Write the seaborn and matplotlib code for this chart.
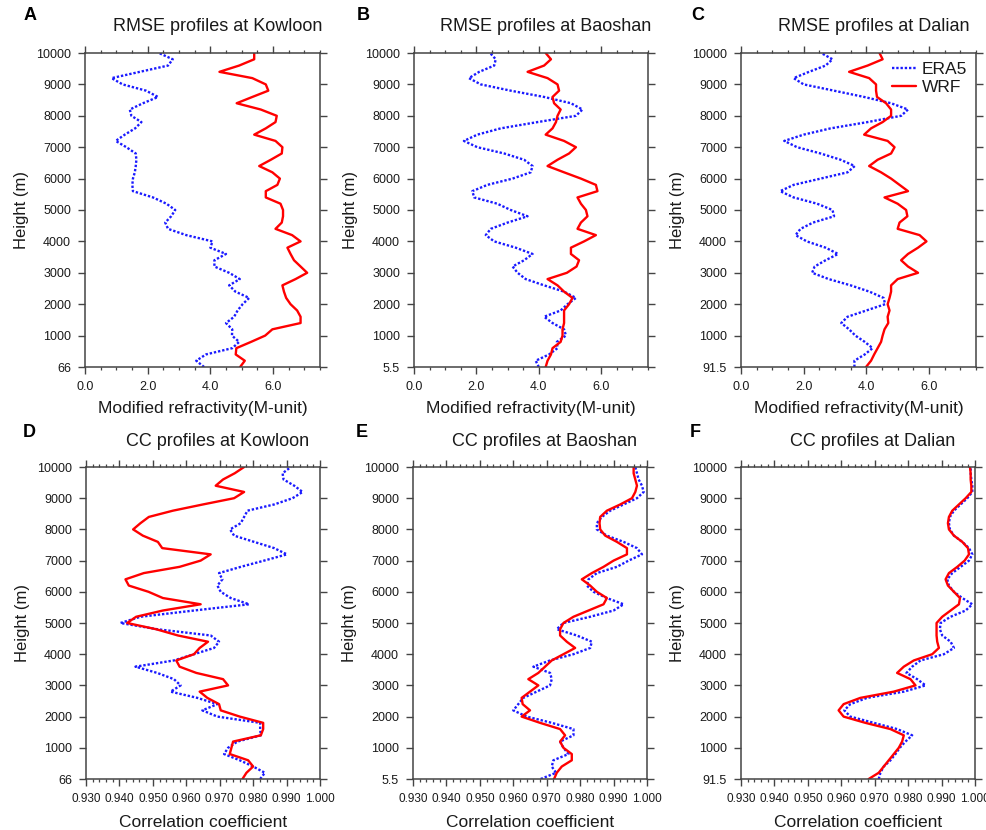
import numpy as np
import pandas as pd
import matplotlib
matplotlib.use('Agg')
import matplotlib.pyplot as plt
import seaborn as sns
from matplotlib.ticker import MultipleLocator, FormatStrFormatter

# sampling heights of the profiles (m), from top to bottom
heights = np.arange(10000, -1, -200)

stations = ['Kowloon', 'Baoshan', 'Dalian']
station_alt = ['66', '5.5', '91.5']
panel_letters = ['A', 'B', 'C', 'D', 'E', 'F']

# ---- RMSE (M-unit) ----
rmse_era5_kowloon = [2.36, 2.8, 2.65, 1.75, 0.85, 1.2, 1.95, 2.33, 1.85, 1.43,
                     1.48, 1.8, 1.6, 1.27, 0.98, 1.32, 1.62, 1.64, 1.62, 1.59,
                     1.53, 1.51, 1.53, 2.17, 2.6, 2.88, 2.75, 2.56, 2.65, 3.23,
                     4.07, 4.0, 4.5, 4.13, 4.13, 4.6, 4.94, 4.6, 4.8, 5.24,
                     5.03, 4.87, 4.76, 4.5, 4.7, 4.69, 4.92, 4.7, 3.86, 3.55, 3.8]
rmse_wrf_kowloon = [5.4, 5.4, 4.92, 4.29, 5.34, 5.77, 5.85, 5.34, 4.84, 5.61,
                    6.12, 6.08, 5.77, 5.4, 6.08, 6.3, 6.28, 5.93, 5.56, 5.98,
                    6.22, 6.14, 5.77, 5.77, 6.24, 6.32, 6.32, 6.28, 6.08, 6.61,
                    6.88, 6.46, 6.56, 6.67, 6.88, 7.09, 6.72, 6.3, 6.35, 6.42,
                    6.56, 6.77, 6.88, 6.88, 5.98, 5.75, 5.3, 4.83, 4.81, 5.1, 4.95]

rmse_era5_baoshan = [2.44, 2.62, 2.57, 2.09, 1.76, 2.14, 3.1, 4.17, 5.03, 5.4,
                     5.19, 3.96, 2.78, 2.03, 1.6, 2.03, 2.89, 3.53, 3.8, 3.74,
                     3.16, 2.35, 1.87, 1.93, 2.67, 3.1, 3.64, 3.0, 2.46, 2.3,
                     2.57, 3.26, 3.8, 3.53, 3.16, 3.32, 3.58, 4.17, 4.81, 5.19,
                     4.92, 4.7, 4.17, 4.44, 4.81, 4.87, 4.58, 4.6, 4.33, 3.9, 4.0]
rmse_wrf_baoshan = [4.22, 4.39, 4.17, 3.64, 4.28, 4.6, 4.65, 4.44, 4.49, 4.7,
                    4.6, 4.55, 4.44, 4.22, 4.81, 5.19, 4.97, 4.6, 4.28, 4.81,
                    5.35, 5.83, 5.88, 5.24, 5.35, 5.51, 5.56, 5.35, 5.24, 5.83,
                    5.45, 5.03, 5.03, 5.29, 5.21, 4.9, 4.28, 4.6, 4.81, 5.08,
                    4.97, 4.81, 4.81, 4.81, 4.76, 4.76, 4.7, 4.44, 4.39, 4.28, 4.22]

rmse_era5_dalian = [2.56, 2.92, 2.7, 2.17, 1.68, 2.0, 2.97, 3.93, 4.79, 5.33,
                    5.11, 4.04, 2.86, 2.0, 1.38, 1.79, 2.54, 3.18, 3.63, 3.4,
                    2.54, 1.68, 1.25, 1.68, 2.43, 2.92, 2.97, 2.3, 1.9, 1.74,
                    2.1, 2.7, 3.1, 2.7, 2.35, 2.27, 2.8, 3.5, 4.1, 4.55,
                    4.6, 4.0, 3.4, 3.2, 3.45, 3.65, 3.95, 4.2, 3.95, 3.62, 3.62]
rmse_wrf_dalian = [4.42, 4.52, 4.04, 3.45, 4.09, 4.31, 4.31, 4.34, 4.63, 4.79,
                   4.79, 4.52, 4.15, 3.93, 4.68, 4.9, 4.79, 4.36, 4.09, 4.47,
                   4.79, 5.06, 5.33, 4.58, 5.0, 5.27, 5.31, 5.06, 5.0, 5.7,
                   5.92, 5.65, 5.33, 5.11, 5.33, 5.65, 5.0, 4.79, 4.79, 4.74,
                   4.68, 4.74, 4.68, 4.7, 4.58, 4.52, 4.47, 4.36, 4.25, 4.15, 3.99]

# ---- correlation coefficient ----
cc_era5_kowloon = [0.9913, 0.9888, 0.9891, 0.9923, 0.9948, 0.9918, 0.9863, 0.9783, 0.9773, 0.9763,
                   0.9731, 0.9743, 0.9803, 0.9863, 0.9901, 0.9833, 0.9763, 0.9698, 0.9708, 0.9693,
                   0.9703, 0.9733, 0.9788, 0.9623, 0.9463, 0.9403, 0.9513, 0.9673, 0.9698, 0.9683,
                   0.9623, 0.9563, 0.9448, 0.9513, 0.9563, 0.9583, 0.9553, 0.9633, 0.9693, 0.9648,
                   0.9693, 0.9821, 0.9821, 0.9823, 0.9753, 0.9725, 0.9713, 0.9760, 0.9800, 0.9835, 0.9821]
cc_wrf_kowloon = [0.9773, 0.9745, 0.9710, 0.9688, 0.9773, 0.9743, 0.9650, 0.9560, 0.9488, 0.9463,
                  0.9441, 0.9470, 0.9515, 0.9528, 0.9673, 0.9643, 0.9580, 0.9473, 0.9418, 0.9428,
                  0.9487, 0.9530, 0.9643, 0.9530, 0.9450, 0.9423, 0.9510, 0.9575, 0.9665, 0.9640,
                  0.9623, 0.9570, 0.9580, 0.9630, 0.9710, 0.9725, 0.9640, 0.9663, 0.9698, 0.9703,
                  0.9760, 0.9830, 0.9830, 0.9823, 0.9740, 0.9735, 0.9730, 0.9785, 0.9800, 0.9780, 0.9768]

cc_era5_baoshan = [0.9965, 0.997, 0.9975, 0.9985, 0.999, 0.997, 0.993, 0.989, 0.9865, 0.985,
                   0.985, 0.988, 0.993, 0.997, 0.9985, 0.9945, 0.991, 0.985, 0.9825, 0.982,
                   0.984, 0.988, 0.993, 0.990, 0.983, 0.975, 0.973, 0.979, 0.9835, 0.983,
                   0.978, 0.971, 0.966, 0.971, 0.9715, 0.971, 0.967, 0.963, 0.9615, 0.960,
                   0.964, 0.9715, 0.978, 0.978, 0.974, 0.975, 0.9765, 0.972, 0.9715, 0.9728, 0.9682]
cc_wrf_baoshan = [0.996, 0.996, 0.9965, 0.997, 0.9965, 0.9955, 0.992, 0.988, 0.986, 0.9858,
                  0.986, 0.9875, 0.991, 0.994, 0.994, 0.990, 0.987, 0.9835, 0.9805, 0.983,
                  0.985, 0.988, 0.987, 0.9825, 0.978, 0.975, 0.974, 0.974, 0.976, 0.9785,
                  0.975, 0.9715, 0.9695, 0.9675, 0.9645, 0.9675, 0.965, 0.9625, 0.9628, 0.965,
                  0.9625, 0.968, 0.974, 0.9755, 0.974, 0.975, 0.9775, 0.9775, 0.9745, 0.973, 0.9722]

cc_era5_dalian = [0.9987, 0.9987, 0.9989, 0.9992, 0.9992, 0.9977, 0.9957, 0.9937, 0.9925, 0.9922,
                  0.9925, 0.9937, 0.9962, 0.9982, 0.9992, 0.9982, 0.9957, 0.9932, 0.9917, 0.9922,
                  0.9937, 0.9962, 0.9992, 0.9972, 0.9927, 0.9897, 0.9895, 0.9902, 0.9927, 0.9937,
                  0.9907, 0.9837, 0.9812, 0.9795, 0.9827, 0.9852, 0.9787, 0.9677, 0.9627, 0.9609,
                  0.9627, 0.9697, 0.9767, 0.9812, 0.9792, 0.9775, 0.9762, 0.9747, 0.9727, 0.9717, 0.9712]
cc_wrf_dalian = [0.9985, 0.9987, 0.9987, 0.9989, 0.9989, 0.9972, 0.9952, 0.9932, 0.9922, 0.9919,
                 0.9922, 0.9937, 0.9962, 0.9979, 0.9982, 0.9969, 0.9947, 0.9922, 0.9912, 0.9919,
                 0.9937, 0.9955, 0.9952, 0.9927, 0.9902, 0.9885, 0.9885, 0.9885, 0.9887, 0.9892,
                 0.9872, 0.9817, 0.9787, 0.9767, 0.9807, 0.9822, 0.9757, 0.9657, 0.9607, 0.9592,
                 0.9607, 0.9672, 0.9747, 0.9787, 0.9782, 0.9772, 0.9757, 0.9742, 0.9727, 0.9712, 0.9682]

rmse_era5 = [rmse_era5_kowloon, rmse_era5_baoshan, rmse_era5_dalian]
rmse_wrf = [rmse_wrf_kowloon, rmse_wrf_baoshan, rmse_wrf_dalian]
cc_era5 = [cc_era5_kowloon, cc_era5_baoshan, cc_era5_dalian]
cc_wrf = [cc_wrf_kowloon, cc_wrf_baoshan, cc_wrf_dalian]

palette = {'ERA5': '#1a1aff', 'WRF': '#ff0000'}
dashes = {'ERA5': (1, 0.8), 'WRF': ''}
TXT = '#1a1a1a'

sns.set_theme(style='ticks')
plt.rcParams['font.family'] = ['Liberation Sans', 'DejaVu Sans']
plt.rcParams['axes.edgecolor'] = '#444444'
plt.rcParams['axes.linewidth'] = 1.1

fig = plt.figure(figsize=(9.87, 8.3), dpi=100)
W, H = 987, 830

# axes boxes in pixels: left, top, right, bottom
boxes = [(85, 53, 320, 367), (414, 53, 648, 367), (741, 53, 976, 367),
         (86, 467, 320, 779), (413, 467, 647, 779), (741, 467, 975, 779)]
letter_pos = [(30, 16), (363, 16), (698, 16), (29, 432), (362, 432), (695, 432)]


def draw_panel(ax, era5, wrf, kind, k):
    df = pd.DataFrame({
        'Height': np.concatenate([heights, heights]),
        'Value': list(era5) + list(wrf),
        'Model': ['ERA5'] * len(heights) + ['WRF'] * len(heights),
    })
    show_leg = (kind == 'rmse' and k == 2)
    sns.lineplot(data=df, x='Value', y='Height', hue='Model', style='Model',
                 palette=palette, dashes=dashes, orient='y', estimator=None,
                 linewidth=1.7, ax=ax, legend=show_leg)
    ax.set_ylim(0, 10000)
    ax.set_yticks(np.arange(0, 10001, 1000))
    ax.set_yticklabels([station_alt[k]] + [str(v) for v in range(1000, 10001, 1000)])
    if kind == 'rmse':
        ax.set_xlim(0, 7.5)
        ax.xaxis.set_major_locator(MultipleLocator(2))
        ax.xaxis.set_minor_locator(MultipleLocator(0.5))
        ax.xaxis.set_major_formatter(FormatStrFormatter('%.1f'))
        title = f'RMSE profiles at {stations[k]}'
        xlab = 'Modified refractivity(M-unit)'
        xsize, xlab_y = 9, -34 / 314
    else:
        ax.set_xlim(0.93, 1.0)
        ax.xaxis.set_major_locator(MultipleLocator(0.01))
        ax.xaxis.set_minor_locator(MultipleLocator(0.002))
        ax.xaxis.set_major_formatter(FormatStrFormatter('%.3f'))
        title = f'CC profiles at {stations[k]}'
        xlab = 'Correlation coefficient'
        xsize, xlab_y = 8.5, -36 / 312
    for s in ax.spines.values():
        s.set_visible(True)
    ax.tick_params(axis='both', which='major', direction='out', length=5, width=1.0,
                   top=True, right=True, labeltop=False, labelright=False,
                   colors='#444444', labelcolor=TXT)
    ax.tick_params(axis='x', which='major', pad=5, labelsize=xsize)
    ax.tick_params(axis='y', which='major', pad=5, labelsize=9)
    ax.tick_params(axis='x', which='minor', direction='out', length=2.5, width=0.9,
                   top=True, bottom=True, colors='#444444')
    ax.set_xlabel(xlab, fontsize=12.5, color=TXT)
    ax.set_ylabel('Height (m)', fontsize=12, color=TXT)
    ax.yaxis.set_label_coords(-0.24, 0.5)
    ax.xaxis.set_label_coords(0.5, xlab_y)
    ax.text(0.564, 1 + 26 / 313, title, transform=ax.transAxes, ha='center',
            va='center', fontsize=13, color=TXT)
    if show_leg:
        sns.move_legend(ax, 'upper right', bbox_to_anchor=(1.0, 1.0), frameon=False,
                        title=None, fontsize=12.5, handlelength=1.4, handletextpad=0.35,
                        labelspacing=0.15, borderaxespad=0.0, borderpad=0.5)
        for t in ax.get_legend().get_texts():
            t.set_color(TXT)


for i in range(6):
    l, t, r, b = boxes[i]
    ax = fig.add_axes([l / W, 1 - b / H, (r - l) / W, (b - t) / H])
    k = i % 3
    if i < 3:
        draw_panel(ax, rmse_era5[k], rmse_wrf[k], 'rmse', k)
    else:
        draw_panel(ax, cc_era5[k], cc_wrf[k], 'cc', k)
    lx, ly = letter_pos[i]
    fig.text(lx / W, 1 - ly / H, panel_letters[i], fontsize=13, fontweight='bold',
             color='black', ha='center', va='center')

fig.savefig('out.png', dpi=100)
